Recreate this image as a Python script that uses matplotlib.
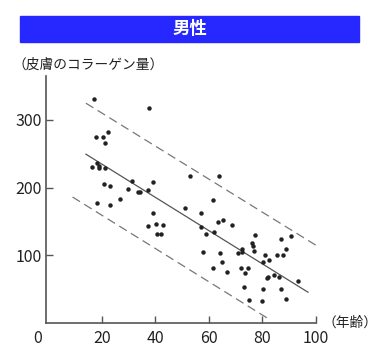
import matplotlib.pyplot as plt
from matplotlib.patches import Rectangle

plt.rcParams['font.family'] = ['Noto Sans CJK JP', 'DejaVu Sans']

# scatter data (age, collagen amount)
age = [16.9, 37.5, 17.6, 20.4, 22.4, 21.1, 18.0, 16.1, 19.0, 19.0, 21.1, 31.1,
       29.7, 20.7, 23.0, 33.3, 34.2, 37.2, 39.0, 18.0, 23.0, 26.7, 39.2, 37.3,
       40.1, 42.9, 40.7, 42.0, 52.9, 63.7, 61.6, 51.0, 56.9, 63.3, 65.1, 68.5,
       56.9, 58.9, 61.8, 57.9, 64.1, 64.7, 61.4, 66.8, 71.0, 72.2, 72.2, 72.0,
       74.7, 73.5, 73.2, 77.1, 86.9, 90.7, 76.0, 76.3, 88.8, 76.8, 80.9, 85.3,
       87.8, 82.5, 80.1, 81.6, 82.2, 84.4, 86.3, 93.4, 80.1, 86.9, 75.1, 79.7,
       88.8]
collagen = [330, 317, 275, 275, 281, 266, 236, 230, 228, 232, 228, 210,
            198, 205, 202, 193, 193, 197, 208, 177, 174, 183, 162, 144,
            146, 145, 131, 132, 217, 217, 182, 170, 162, 150, 152, 145,
            142, 132, 134, 105, 104, 90, 81, 75, 104, 110, 105, 82,
            82, 74, 54, 130, 124, 129, 118, 114, 110, 106, 101, 100,
            100, 93, 91, 67, 69, 71, 69, 62, 51, 50, 35, 33,
            36]

# regression line and the two dashed bands (end points)
fit_x = [14, 97]
fit_y = [249, 46]
upper_x = [14, 100]
upper_y = [324, 115]
lower_x = [9, 83]
lower_y = [186, 5]

xticks = [20, 40, 60, 80, 100]
yticks = [100, 200, 300]

fig = plt.figure(figsize=(3.8, 3.54), dpi=100)
ax = fig.add_axes([0.1205, 0.0862, 0.7111, 0.6991])

grey = '#555555'
ax.plot(fit_x, fit_y, color=grey, lw=0.9)
ax.plot(upper_x, upper_y, color='#777777', lw=0.9, dashes=(7, 4))
ax.plot(lower_x, lower_y, color='#777777', lw=0.9, dashes=(7, 4))
ax.plot(age, collagen, 'o', color='#222222', ms=3.2, mec='none')

ax.set_xlim(-1, 100)
ax.set_ylim(0, 364)
ax.set_xticks(xticks)
ax.set_yticks(yticks)
ax.tick_params(direction='in', length=5, width=1, color=grey, labelsize=11.5,
               labelcolor='#222222')
ax.tick_params(axis='x', pad=5)
ax.tick_params(axis='y', pad=3)
for s in ['top', 'right']:
    ax.spines[s].set_visible(False)
for s in ['left', 'bottom']:
    ax.spines[s].set_color(grey)
    ax.spines[s].set_linewidth(1.2)

ax.annotate('0', xy=(0, 0), xycoords='data', xytext=(-8, -5),
            textcoords='offset points', ha='center', va='top',
            fontsize=11.5, color='#222222')

# title bar
fig.patches.append(Rectangle((20 / 380, 1 - 42 / 354), 339 / 380, 26 / 354,
                             transform=fig.transFigure, color='#2727FF'))
fig.text(190 / 380, 1 - 29 / 354, '男性', color='white', fontsize=12.5,
         fontweight='bold', ha='center', va='center')

fig.text(12 / 380, 1 - 65 / 354, '（皮膚のコラーゲン量）', fontsize=9.9,
         ha='left', va='center', color='#222222')
fig.text(323 / 380, 1 - 323 / 354, '（年齢）', fontsize=9.9,
         ha='left', va='center', color='#222222')

fig.savefig('out.png', dpi=100)
